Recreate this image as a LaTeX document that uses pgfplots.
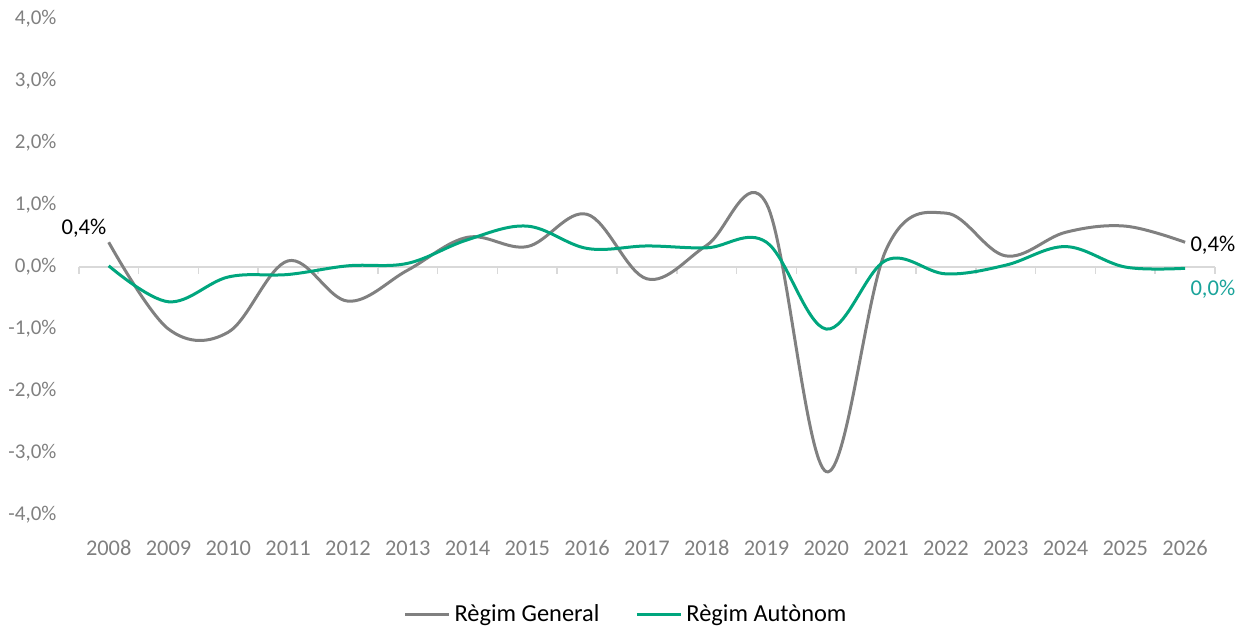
\documentclass[border=0pt]{standalone}
\usepackage{fontspec}
\setmainfont{Carlito}
\usepackage{pgfplots}
\pgfplotsset{compat=1.18}
\definecolor{gen}{HTML}{808080}
\definecolor{aut}{HTML}{00A67E}
\definecolor{autlab}{HTML}{1AA39A}
\definecolor{ticklab}{HTML}{808080}
\definecolor{zero}{HTML}{D9D9D9}
\pgfplotstableread{
x gen aut
0 0.40 0.02
1 -1.00 -0.56
2 -1.05 -0.16
3 0.10 -0.12
4 -0.55 0.02
5 -0.05 0.06
6 0.48 0.44
7 0.33 0.66
8 0.85 0.30
9 -0.19 0.34
10 0.35 0.31
11 1.02 0.40
12 -3.30 -1.00
13 0.28 0.11
14 0.87 -0.11
15 0.18 0.03
16 0.56 0.33
17 0.66 0.00
18 0.40 -0.02
}\data
\begin{document}
\begin{tikzpicture}
\begin{axis}[
  scale only axis, width=568pt, height=248pt,
  xmin=-0.5, xmax=18.5, ymin=-4, ymax=4,
  clip=false,
  axis line style={draw=none},
  major tick length=0pt,
  xtick={0,...,18},
  xticklabels={2008,2009,2010,2011,2012,2013,2014,2015,2016,2017,2018,2019,2020,2021,2022,2023,2024,2025,2026},
  ytick={-4,-3,-2,-1,0,1,2,3,4},
  yticklabels={{-4,0\%},{-3,0\%},{-2,0\%},{-1,0\%},{0,0\%},{1,0\%},{2,0\%},{3,0\%},{4,0\%}},
  ticklabel style={text=ticklab},
  yticklabel style={anchor=east, inner sep=0pt, xshift=-11pt, font=\fontsize{10.5}{12}\selectfont},
  xticklabel style={anchor=north, inner sep=0pt, yshift=-12.5pt, font=\fontsize{11.2}{13}\selectfont},
  legend style={at={(axis description cs:0.4825,-0.2)}, anchor=center, draw=none,
    font=\fontsize{12.2}{14}\selectfont, legend columns=2,
    /tikz/every even column/.append style={column sep=16pt}},
  legend image code/.code={\draw[#1] (0pt,0pt) -- (22pt,0pt);},
]
\coordinate (ll) at (rel axis cs:0,0);
\coordinate (ur) at (rel axis cs:1,1);
\draw[zero, line width=1pt] (axis cs:-0.5,0) -- (axis cs:18.5,0);
\pgfplotsinvokeforeach{-0.5,0.5,...,18.5}{
  \draw[zero, line width=0.8pt] (axis cs:#1,0) -- ++(0pt,-3.5pt);
}
\addplot[gen, line width=1.5pt, smooth, tension=0.6] table[x=x, y=gen] {\data};
\addlegendentry{Règim General}
\addplot[aut, line width=1.5pt, smooth, tension=0.6] table[x=x, y=aut] {\data};
\addlegendentry{Règim Autònom}
\node[anchor=south east, inner sep=0pt, font=\fontsize{11.3}{13}\selectfont, xshift=-1pt, yshift=2pt] at (axis cs:0,0.4) {0,4\%};
\node[anchor=west, inner sep=0pt, font=\fontsize{11.3}{13}\selectfont, xshift=2.5pt, yshift=-1.5pt] at (axis cs:18,0.4) {0,4\%};
\node[anchor=west, inner sep=0pt, text=autlab, font=\fontsize{11.3}{13}\selectfont, xshift=2.5pt, yshift=-10.5pt] at (axis cs:18,-0.02) {0,0\%};
\end{axis}
\pgfresetboundingbox
\path[use as bounding box] ([xshift=-39.4pt,yshift=-56pt]ll) rectangle ([xshift=13pt,yshift=9.5pt]ur);
\end{tikzpicture}
\end{document}
